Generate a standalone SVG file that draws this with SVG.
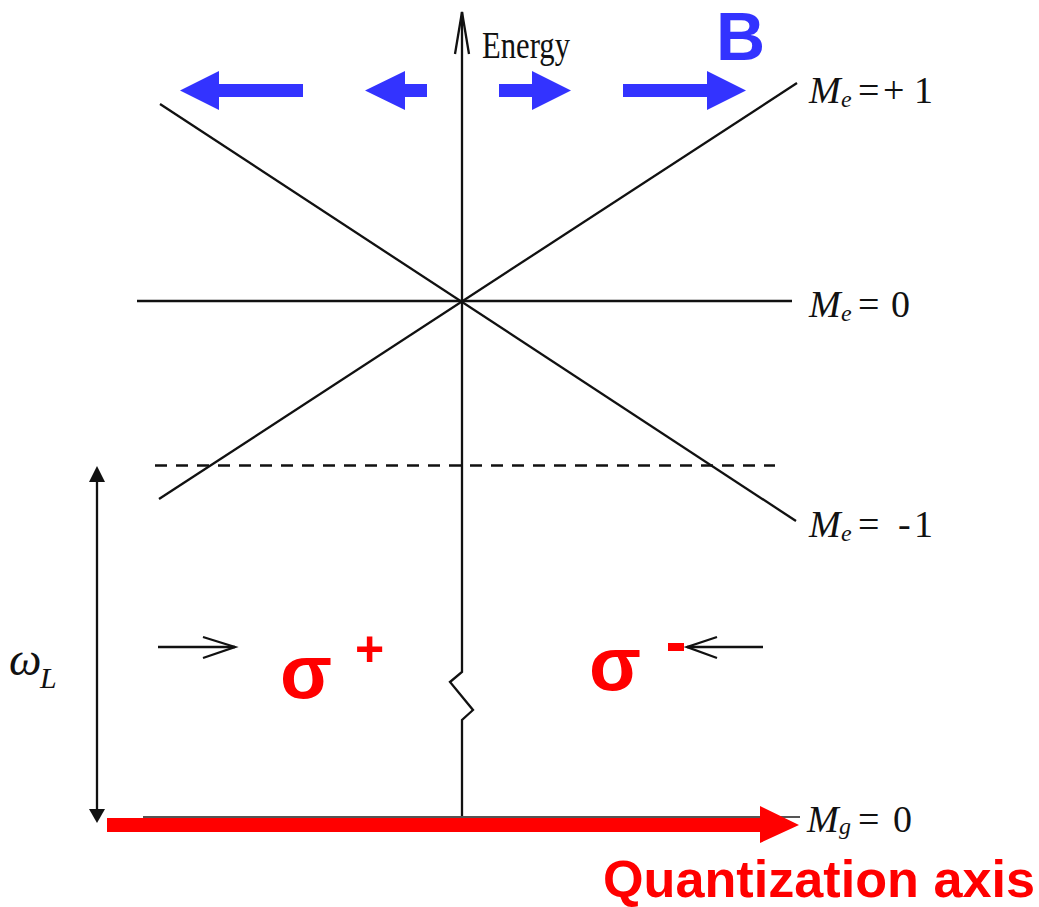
<svg xmlns="http://www.w3.org/2000/svg" width="1039" height="907" viewBox="0 0 1039 907">
<style>
.ln{stroke:#111;stroke-width:2.3;fill:none}
.blue{fill:#3333ff}
.red{fill:#ff0000}
.serif{font-family:"Liberation Serif","Times New Roman",serif;fill:#111;font-size:38px}
.it{font-style:italic}
.sub{font-style:italic;font-size:24px}
.sans{font-family:"Liberation Sans",Arial,sans-serif;font-weight:bold}
</style>
<rect width="1039" height="907" fill="#fff"/>
<g id="connectors">
<polyline class="ln" points="462,817 462,720 473,710 450,682 462,672 462,12"/>
<polyline class="ln" points="455,54 462,12 469,54"/>
<line class="ln" x1="160" y1="104" x2="796" y2="521"/>
<line class="ln" x1="159" y1="499" x2="797" y2="83"/>
<line class="ln" x1="137" y1="301" x2="792" y2="301"/>
<line class="ln" x1="155" y1="465.5" x2="775" y2="465.5" stroke-dasharray="12 9"/>
<line x1="143" y1="817" x2="800" y2="817" stroke="#555" stroke-width="2"/>
<line class="ln" x1="97" y1="470" x2="97" y2="815"/>
<path d="M97,466 L89,482 L105,482 Z" fill="#111"/>
<path d="M97,823 L89,809 L105,809 Z" fill="#111"/>
<line class="ln" x1="158" y1="647" x2="235" y2="647"/>
<polyline class="ln" points="203,637 235,647 203,658"/>
<line class="ln" x1="687" y1="647" x2="763" y2="647"/>
<polyline class="ln" points="717,637 687,647 717,658"/>
<path class="red" d="M107,818 L760,818 L760,806 L799,825 L760,843 L760,832 L107,832 Z"/>
</g>
<g id="b-field">
<path class="blue" d="M180,90.5 L219,71 L219,84 L303,84 L303,97 L219,97 L219,110 Z"/>
<path class="blue" d="M365,90.5 L405,71 L405,84 L427,84 L427,97 L405,97 L405,110 Z"/>
<path class="blue" d="M571,90.5 L532,71 L532,84 L499,84 L499,97 L532,97 L532,110 Z"/>
<path class="blue" d="M746,90.5 L707,71 L707,84 L623,84 L623,97 L707,97 L707,110 Z"/>
<text class="sans blue" x="716" y="60" font-size="68">B</text>
</g>
<g id="energy-label">
<text class="serif" x="482" y="58" font-size="36" textLength="88" lengthAdjust="spacingAndGlyphs">Energy</text>
</g>
<g id="me-plus1">
<text class="serif" y="103"><tspan class="it" x="809">M</tspan><tspan class="sub" x="841" dy="4">e</tspan><tspan x="858" dy="-4">=</tspan><tspan x="883">+</tspan><tspan x="914">1</tspan></text>
</g>
<g id="me-0">
<text class="serif" y="317"><tspan class="it" x="809">M</tspan><tspan class="sub" x="841" dy="4">e</tspan><tspan x="858" dy="-4">=</tspan><tspan x="891">0</tspan></text>
</g>
<g id="me-minus1">
<text class="serif" y="537"><tspan class="it" x="809">M</tspan><tspan class="sub" x="841" dy="4">e</tspan><tspan x="858" dy="-4">=</tspan><tspan x="898">-</tspan><tspan x="914">1</tspan></text>
</g>
<g id="mg-0">
<text class="serif" y="832"><tspan class="it" x="807">M</tspan><tspan class="sub" x="839" dy="2">g</tspan><tspan x="858" dy="-2">=</tspan><tspan x="893">0</tspan></text>
</g>
<g id="omega-l">
<text class="serif it" y="675"><tspan x="9" font-size="46">ω</tspan><tspan x="40" dy="13" font-size="30">L</tspan></text>
</g>
<g id="sigma-plus">
<text class="sans red" x="280" y="698" font-size="76">σ</text>
<text class="sans red" x="355" y="666" font-size="50">+</text>
</g>
<g id="sigma-minus">
<text class="sans red" x="589" y="690" font-size="76">σ</text>
<rect class="red" x="668" y="643" width="16" height="8"/>
</g>
<g id="quantization-label">
<text class="sans red" x="603" y="897" font-size="52" textLength="432" lengthAdjust="spacingAndGlyphs">Quantization axis</text>
</g>
</svg>
